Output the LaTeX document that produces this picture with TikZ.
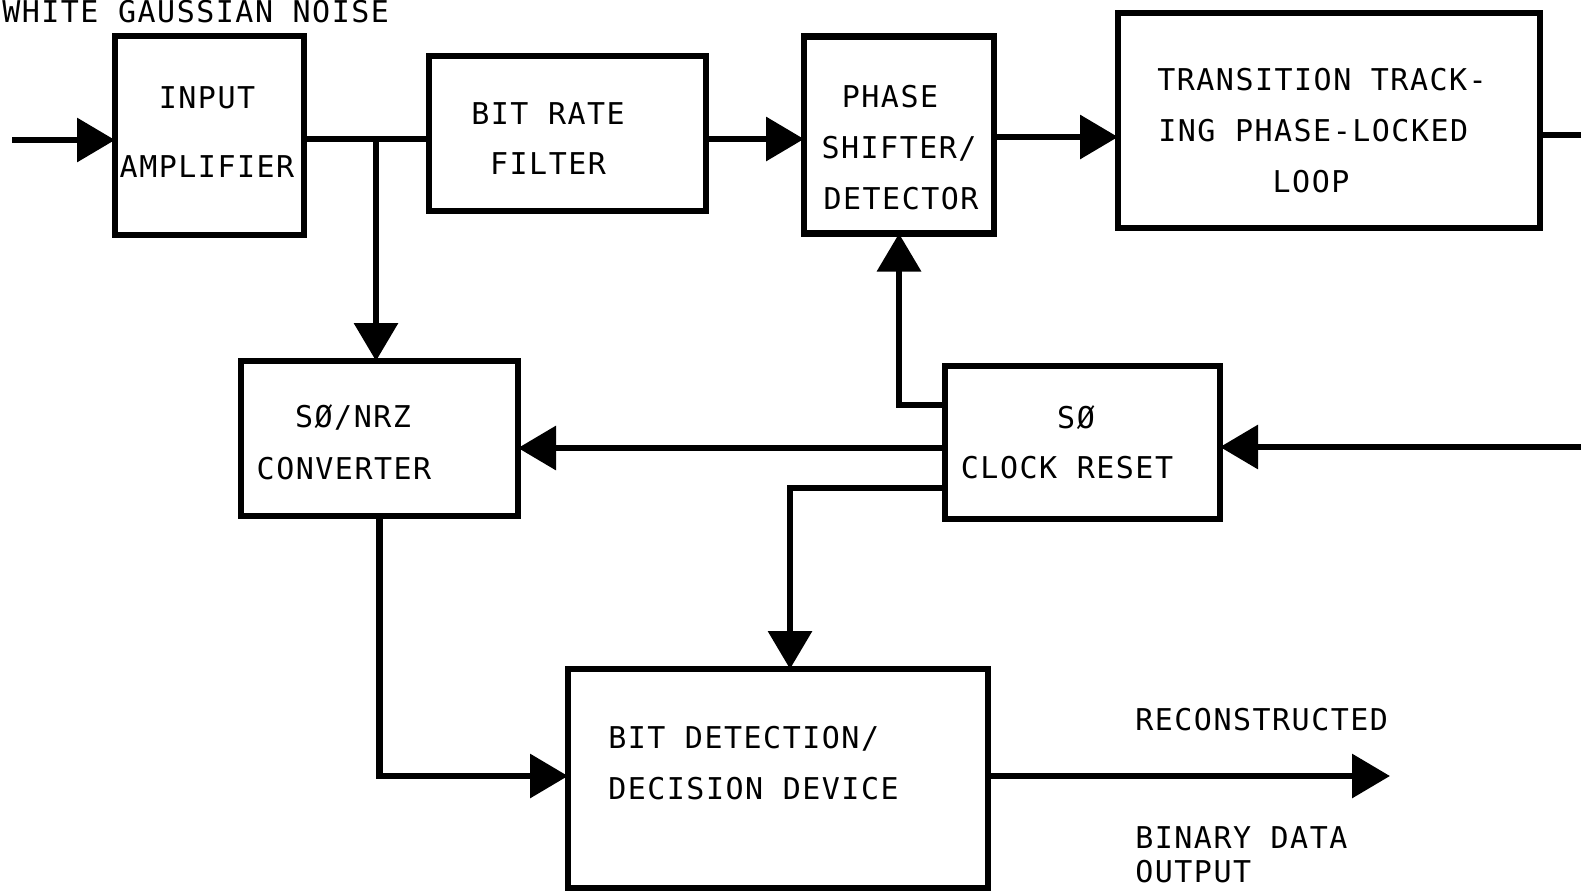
\documentclass[tikz,border=0pt]{standalone}
\usepackage{fontspec}
\newfontfamily\lblfont{DejaVu Sans Mono}[LetterSpace=5]
\usetikzlibrary{arrows.meta}
\begin{document}
\begin{tikzpicture}[x=1pt,y=-1pt,
  line width=6.5pt,
  blk/.style={draw,line width=6.5pt,inner sep=0pt,outer sep=0pt,anchor=north west},
  lbl/.style={inner sep=0pt,font=\lblfont\fontsize{30}{30}\selectfont},
  arr/.style={-{Triangle[length=38pt,width=43pt]}}]
\path[use as bounding box] (0,0) rectangle (1581,892);
% boxes
\node[blk,minimum width=189pt,minimum height=199pt] (inamp) at (115,36) {};
\node[blk,minimum width=277pt,minimum height=155pt] (brf) at (429,56) {};
\node[blk,minimum width=190pt,minimum height=197pt] (phase) at (804,36.5) {};
\node[blk,minimum width=422pt,minimum height=215pt] (tpll) at (1118,13) {};
\node[blk,minimum width=277pt,minimum height=155pt] (conv) at (241,361) {};
\node[blk,minimum width=275pt,minimum height=153pt] (clk) at (945,366) {};
\node[blk,minimum width=420pt,minimum height=219pt] (bdd) at (568,669) {};
% labels
\node[lbl,anchor=base west] (wgn) at (-1,22) {WHITE GAUSSIAN NOISE};
\node[lbl,anchor=base] (t1) at (207,108) {INPUT};
\node[lbl,anchor=base] (t2) at (207,177) {AMPLIFIER};
\node[lbl,anchor=base] (t3) at (548,124) {BIT RATE};
\node[lbl,anchor=base] (t4) at (548,174) {FILTER};
\node[lbl,anchor=base] (t5) at (890,107) {PHASE};
\node[lbl,anchor=base] (t6) at (899,158) {SHIFTER/};
\node[lbl,anchor=base] (t7) at (901,209) {DETECTOR};
\node[lbl,anchor=base west] (t8) at (1154,90) {TRANSITION TRACK-};
\node[lbl,anchor=base west] (t9) at (1155,141) {ING PHASE-LOCKED};
\node[lbl,anchor=base] (t10) at (1311,192) {LOOP};
\node[lbl,anchor=base] (t11) at (353,427) {SØ/NRZ};
\node[lbl,anchor=base] (t12) at (344,479) {CONVERTER};
\node[lbl,anchor=base] (t13) at (1076,428) {SØ};
\node[lbl,anchor=base] (t14) at (1067,478) {CLOCK RESET};
\node[lbl,anchor=base west] (t15) at (605,748) {BIT DETECTION/};
\node[lbl,anchor=base west] (t16) at (605,799) {DECISION DEVICE};
\node[lbl,anchor=base west] (t17) at (1132,730) {RECONSTRUCTED};
\node[lbl,anchor=base west] (t18) at (1132,848) {BINARY DATA};
\node[lbl,anchor=base west] (t19) at (1132,882) {OUTPUT};
% free ends
\coordinate (inL) at (12,140);
\coordinate (j1) at (376,139);
\coordinate (tplout) at (1581,135);
\coordinate (rin) at (1581,447);
\coordinate (out) at (1390,776);
% connectors
\draw[arr] (inL) -- (inamp.west |- inL);
\draw (inamp.east |- j1) -- (brf.west |- j1);
\draw[arr] (j1) -- (conv.north -| j1);
\draw[arr] (brf.east |- 0,139) -- (phase.west |- 0,139);
\draw[arr] (phase.east |- 0,137) -- (tpll.west |- 0,137);
\draw (tpll.east |- tplout) -- (tplout);
\draw[arr] (rin) -- (clk.east |- rin);
\draw[arr] (clk.west |- 0,405) -| (phase.south);
\draw[arr] (clk.west |- 0,448) -- (conv.east |- 0,448);
\draw[arr] (clk.west |- 0,488) -| (bdd.north -| 790,0);
\draw[arr] (conv.south) |- (bdd.west |- 0,776);
\draw[arr] (bdd.east |- out) -- (out);
\end{tikzpicture}
\end{document}
